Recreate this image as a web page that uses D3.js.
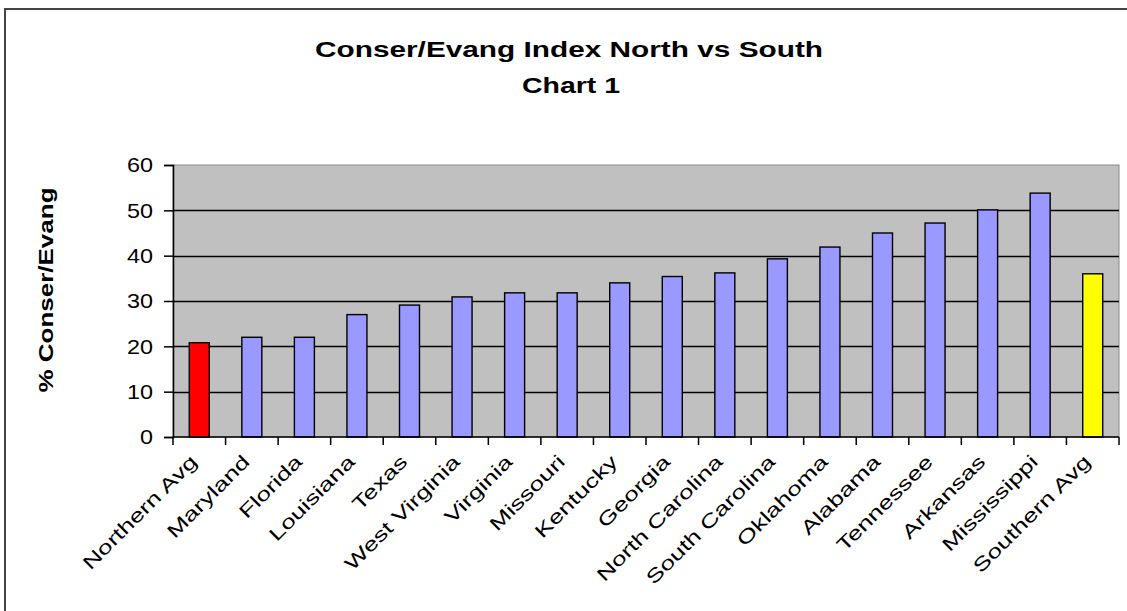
<!DOCTYPE html>
<html>
<head>
<meta charset="utf-8">
<script src="https://cdn.jsdelivr.net/npm/d3@7"></script>
<style>
  html, body { margin: 0; padding: 0; background: #fff; }
  svg { display: block; }
  text { font-family: Arial, "Liberation Sans", sans-serif; fill: #000; }
</style>
</head>
<body>
<svg id="chart" width="1127" height="611"></svg>
<script>
const categories = ["Northern Avg","Maryland","Florida","Louisiana","Texas","West Virginia","Virginia","Missouri","Kentucky","Georgia","North Carolina","South Carolina","Oklahoma","Alabama","Tennessee","Arkansas","Mississippi","Southern Avg"];
const values = [20.8, 22.0, 22.0, 27.0, 29.1, 30.9, 31.8, 31.8, 34.0, 35.4, 36.2, 39.3, 41.9, 45.0, 47.2, 50.1, 53.8, 36.0];
const barColors = ["#FF0000","#9999FF","#9999FF","#9999FF","#9999FF","#9999FF","#9999FF","#9999FF","#9999FF","#9999FF","#9999FF","#9999FF","#9999FF","#9999FF","#9999FF","#9999FF","#9999FF","#FFFF00"];
const yTicks = [0, 10, 20, 30, 40, 50, 60];
const titleLines = ["Conser/Evang Index North vs South", "Chart 1"];
const yTitle = "% Conser/Evang";

const svg = d3.select("#chart");
const plot = {left: 173, top: 165, right: 1119, bottom: 437};

// outer chart border
svg.append("rect").attr("x", 5).attr("y", 9).attr("width", 1140).attr("height", 640)
  .attr("fill", "#fff").attr("stroke", "#444").attr("stroke-width", 2);

const x = d3.scaleBand().domain(categories).range([plot.left, plot.right]).paddingInner(0).paddingOuter(0);
const y = d3.scaleLinear().domain([0, 60]).range([plot.bottom, plot.top]);

// plot area
svg.append("rect").attr("x", plot.left).attr("y", plot.top)
  .attr("width", plot.right - plot.left).attr("height", plot.bottom - plot.top)
  .attr("fill", "#C0C0C0").attr("stroke", "#8a8a8a").attr("stroke-width", 1);

// gridlines
svg.append("g").selectAll("line").data(yTicks.filter(d => d > 0 && d < 60)).join("line")
  .attr("x1", plot.left).attr("x2", plot.right)
  .attr("y1", d => Math.round(y(d)) + 0.5).attr("y2", d => Math.round(y(d)) + 0.5)
  .attr("stroke", "#000").attr("stroke-width", 1.3);

// bars
const bw = 20;
svg.append("g").selectAll("rect").data(values).join("rect")
  .attr("x", (d, i) => x(categories[i]) + x.bandwidth() / 2 - bw / 2)
  .attr("y", d => y(d))
  .attr("width", bw)
  .attr("height", d => y(0) - y(d))
  .attr("fill", (d, i) => barColors[i])
  .attr("stroke", "#000").attr("stroke-width", 1.4);

// y axis
const yAxis = d3.axisLeft(y).tickValues(yTicks).tickSize(9).tickPadding(11);
const gy = svg.append("g").attr("transform", `translate(${plot.left},0)`).call(yAxis);
gy.select(".domain").attr("stroke", "#000").attr("stroke-width", 1.5);
gy.selectAll(".tick line").attr("stroke", "#000").attr("stroke-width", 1.5);
gy.selectAll(".tick text").style("font-size", "21px").style("font-family", "Arial, 'Liberation Sans', sans-serif")
  .attr("textLength", d => String(d).length * 13).attr("lengthAdjust", "spacingAndGlyphs");

// x axis with ticks at band boundaries
const gx = svg.append("g").attr("transform", `translate(0,${plot.bottom})`);
gx.append("line").attr("x1", plot.left).attr("x2", plot.right).attr("y1", 0).attr("y2", 0)
  .attr("stroke", "#000").attr("stroke-width", 1.5);
const boundaries = categories.map(c => x(c)).concat([plot.right]);
gx.selectAll("line.tk").data(boundaries).join("line").attr("class", "tk")
  .attr("x1", d => d).attr("x2", d => d).attr("y1", 0).attr("y2", 8)
  .attr("stroke", "#000").attr("stroke-width", 1.5);
gx.selectAll("text").data(categories).join("text")
  .attr("transform", d => `translate(${x(d) + x.bandwidth() / 2 - 1},${26}) rotate(-45) scale(1.38,1)`)
  .attr("text-anchor", "end")
  .style("font-size", "19px")
  .text(d => d);

// title
svg.append("text").attr("x", 569).attr("y", 57).attr("text-anchor", "middle")
  .style("font-size", "22px").style("font-weight", "bold")
  .attr("textLength", 508).attr("lengthAdjust", "spacingAndGlyphs")
  .text(titleLines[0]);
svg.append("text").attr("x", 571).attr("y", 93).attr("text-anchor", "middle")
  .style("font-size", "22px").style("font-weight", "bold")
  .attr("textLength", 98).attr("lengthAdjust", "spacingAndGlyphs")
  .text(titleLines[1]);

// y title
svg.append("text").attr("transform", "translate(53,290) rotate(-90)").attr("text-anchor", "middle")
  .style("font-size", "21px").style("font-weight", "bold")
  .attr("textLength", 205).attr("lengthAdjust", "spacingAndGlyphs")
  .text(yTitle);
</script>
</body>
</html>
